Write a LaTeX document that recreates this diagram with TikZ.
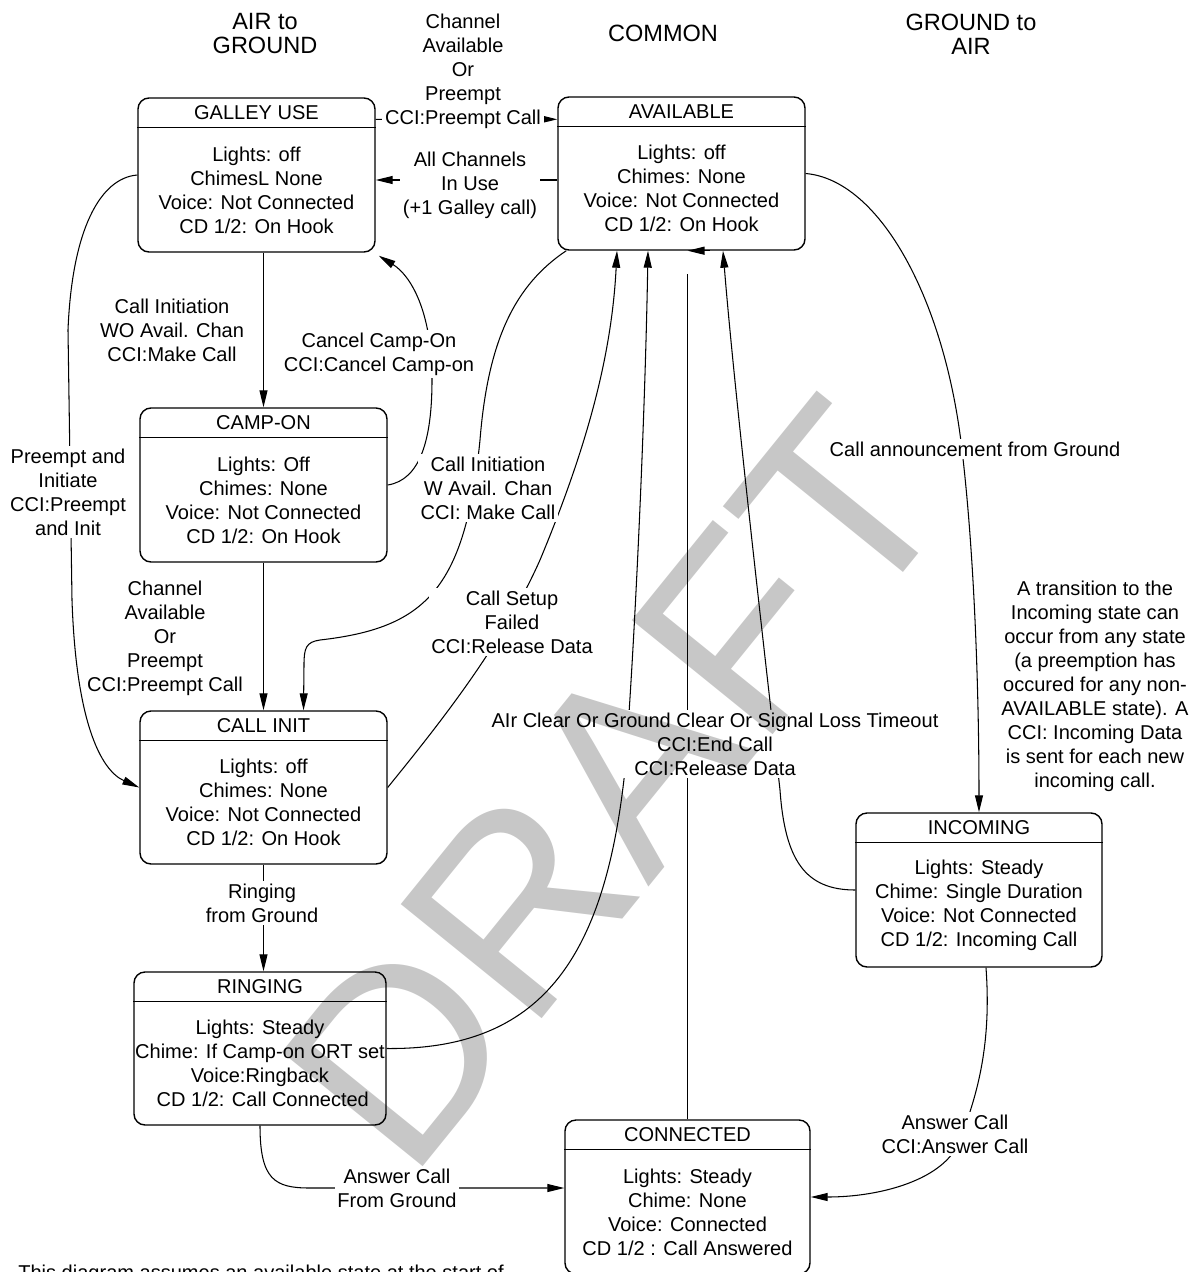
\documentclass[tikz,border=0pt]{standalone}
\usepackage{fontspec}
\setmainfont{Liberation Sans}
\usetikzlibrary{arrows.meta,calc,fit}
\tikzset{
    statebox/.style={draw, line width=0.8pt, rounded corners=0.22cm, inner sep=0pt},
    statetext/.style={align=center, inner sep=0pt, font=\fontsize{11.4}{13.66}\selectfont},
    trans/.style={line width=0.6pt, -{Triangle[length=0.34cm,width=0.16cm]}},
    plainline/.style={line width=0.6pt},
    translabel/.style={fill=white, align=center, inner sep=1.5pt, font=\fontsize{11.4}{13.66}\selectfont},
    colhead/.style={align=center, inner sep=0pt, font=\fontsize{13.4}{13.4}\selectfont},
    watermark/.style={inner sep=0pt, text=black, text opacity=0.22, font=\fontsize{150}{150}\selectfont}
}
\begin{document}
\begin{tikzpicture}[x=0.02cm, y=-0.02cm]
        \newcommand{\figstatehead}{0.6cm}
        \newcommand{\figstate}[5]{%
            \node[statebox, fit={#2 #3}] (#1) {};
            \draw[line width=0.8pt] ([yshift=-\figstatehead]#1.north west) -- ([yshift=-\figstatehead]#1.north east);
            \node[statetext] (#1title) at ([yshift=-0.5*\figstatehead]#1.north) {#4};
            \node[statetext] (#1body) at ([yshift=-0.5*\figstatehead]#1.center) {#5};
        }
        \useasboundingbox (0,0) rectangle (1191,1272);
        \node[colhead] (headair) at (265,33.5) {AIR to\\GROUND};
        \node[colhead] (headcommon) at (663,33) {COMMON};
        \node[colhead] (headground) at (971,34.5) {GROUND to\\AIR};
        \figstate{galley}{(138,98)}{(375,252)}{GALLEY USE}{Lights: off\\ChimesL None\\Voice: Not Connected\\CD 1/2: On Hook}
        \figstate{avail}{(558,97)}{(805,250)}{AVAILABLE}{Lights: off\\Chimes: None\\Voice: Not Connected\\CD 1/2: On Hook}
        \figstate{campon}{(140,408)}{(387,562)}{CAMP-ON}{Lights: Off\\Chimes: None\\Voice: Not Connected\\CD 1/2: On Hook}
        \figstate{callinit}{(140,711)}{(387,864)}{CALL INIT}{Lights: off\\Chimes: None\\Voice: Not Connected\\CD 1/2: On Hook}
        \figstate{ringing}{(134,972)}{(386,1125)}{RINGING}{Lights: Steady\\Chime: If Camp-on ORT set\\Voice:Ringback\\ \ CD 1/2: Call Connected}
        \figstate{incoming}{(856,813)}{(1102,967)}{INCOMING}{Lights: Steady\\Chime: Single Duration\\Voice: Not Connected\\CD 1/2: Incoming Call}
        \figstate{connected}{(565,1120)}{(810,1274)}{CONNECTED}{Lights: Steady\\Chime: None\\Voice: Connected\\CD 1/2 : Call Answered}
        \draw[trans] ($(galley.north east)+(0,22)$) -- ($(avail.north west)+(0,23)$);
        \draw[trans] ($(avail.west)+(0,6.5)$) -- ($(galley.east)+(0,5)$);
        \draw[trans] (campon.north |- galley.south) -- (campon.north);
        \draw[trans] (campon.east) .. controls (420,480) and (432,440) .. (432,380) .. controls (432,310) and (410,275) .. ($(galley.south east)+(3,3)$);
        \draw[trans] (galley.west) .. controls (100,178) and (72,230) .. (68,330) -- (72,600) .. controls (76,720) and (100,770) .. (callinit.west);
        \draw[trans] ($(avail.south west)+(9,0)$) .. controls (515,285) and (488,340) .. (480,440) .. controls (465,590) and (425,628) .. (320,640) .. controls (306,642) and (304,648) .. (304,665) -- ($(callinit.north)+(40,0)$);
        \draw[trans] (campon.south) -- (campon.south |- callinit.north);
        \draw[trans] (callinit.east) .. controls (430,735) and (500,650) .. (540,560) .. controls (590,440) and (612,350) .. ($(avail.south)+(-64.5,0)$);
        \draw[trans] (callinit.south) -- (callinit.south |- ringing.north);
        \draw[trans] (ringing.east) .. controls (540,1050) and (605,960) .. (625,770) .. controls (635,640) and (645,420) .. ($(avail.south)+(-33.5,0)$);
        \draw[plainline] (connected.north) -- ($(connected.north |- avail.south)+(0,23)$);
        \draw[trans] ($(avail.south)+(28,0)$) -- (connected.north |- avail.south);
        \draw[trans] (incoming.west) .. controls (805,890) and (785,860) .. (780,790) .. controls (770,700) and (735,400) .. ($(avail.south)+(41.5,0)$);
        \draw[trans] (avail.east) .. controls (880,180) and (945,300) .. (962,450) .. controls (975,560) and (979,700) .. (incoming.north);
        \draw[trans] ($(incoming.south)+(7,0)$) .. controls (992,1050) and (975,1100) .. (960,1140) .. controls (945,1180) and (880,1197) .. (connected.east);
        \draw[trans] (ringing.south) .. controls (260,1180) and (275,1188) .. (310,1188) -- ($(connected.west)+(0,-9)$);
        \node[translabel] (lblpreempt) at (463,71) {Channel\\Available\\Or\\Preempt\\CCI:Preempt Call};
        \node[translabel] (lblinuse) at (470,185) {All Channels\\In Use\\(+1 Galley call)};
        \node[translabel] (lblwo) at (172,330) {Call Initiation\\WO Avail. Chan\\CCI:Make Call};
        \node[translabel] (lblcancel) at (379,354) {Cancel Camp-On\\CCI:Cancel Camp-on};
        \node[translabel] (lblpreinit) at (68,492) {Preempt and\\Initiate\\CCI:Preempt\\and Init};
        \node[translabel] (lblwith) at (488,488) {Call Initiation\\W Avail. Chan\\CCI: Make Call};
        \node[statetext] (lblchan) at (165,638) {Channel\\Available\\Or\\Preempt\\CCI:Preempt Call};
        \node[translabel] (lblfailed) at (512,622) {Call Setup\\Failed\\CCI:Release Data};
        \node[translabel] (lblclear) at (715,744) {AIr Clear Or Ground Clear Or Signal Loss Timeout\\CCI:End Call\\CCI:Release Data};
        \node[translabel] (lblannounce) at (975,449) {Call announcement from Ground};
        \node[statetext] (noteincoming) at (1095,686) {A transition to the\\Incoming state can\\occur from any state\\(a preemption has\\occured for any non-\\AVAILABLE state). A\\CCI: Incoming Data\\is sent for each new\\incoming call.};
        \node[translabel] (lblringing) at (262,903) {Ringing\\from Ground};
        \node[translabel] (lblansground) at (397,1188) {Answer Call\\From Ground};
        \node[translabel] (lblanscci) at (955,1134) {Answer Call\\CCI:Answer Call};
        \node[statetext, anchor=base west] (footnote) at (18,1279) {This diagram assumes an available state at the start of};
        \node[watermark, rotate=51] (draftmark) at (615,785) {DRAFT};
    \end{tikzpicture}
\end{document}
